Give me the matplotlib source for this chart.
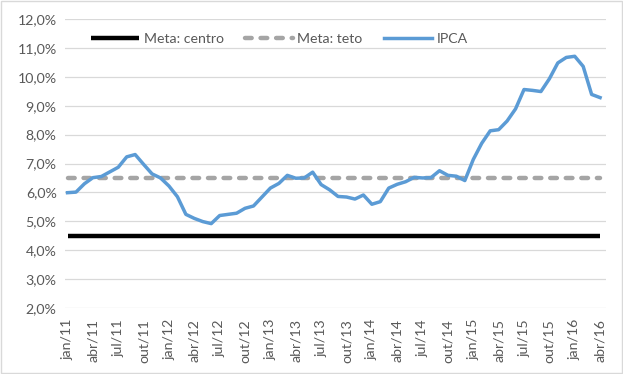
import matplotlib
matplotlib.use('Agg')
import matplotlib.pyplot as plt
from matplotlib.patches import Rectangle

# ── data ──────────────────────────────────────────────────────────────────────
MONTHS = ['jan', 'fev', 'mar', 'abr', 'mai', 'jun',
          'jul', 'ago', 'set', 'out', 'nov', 'dez']
YEARS = [11, 12, 13, 14, 15, 16]

ipca = [5.99, 6.01, 6.30, 6.51, 6.55, 6.71, 6.87, 7.23, 7.31, 6.97, 6.64, 6.50,
        6.22, 5.85, 5.24, 5.10, 4.99, 4.92, 5.20, 5.24, 5.28, 5.45, 5.53, 5.84,
        6.15, 6.31, 6.59, 6.49, 6.50, 6.70, 6.27, 6.09, 5.86, 5.84, 5.77, 5.91,
        5.59, 5.68, 6.15, 6.28, 6.37, 6.52, 6.50, 6.51, 6.75, 6.59, 6.56, 6.41,
        7.14, 7.70, 8.13, 8.17, 8.47, 8.89, 9.56, 9.53, 9.49, 9.93, 10.48, 10.67,
        10.71, 10.36, 9.39, 9.28]
meta_centro = [4.5] * len(ipca)
meta_teto = [6.5] * len(ipca)

labels = [f'{m}/{y}' for y in YEARS for m in MONTHS][:len(ipca)]

yticks = [2, 3, 4, 5, 6, 7, 8, 9, 10, 11, 12]

# ── plot ──────────────────────────────────────────────────────────────────────
plt.rcParams['font.family'] = ['Lato', 'DejaVu Sans']
TXT = '#595959'
FS = 10.2

fig = plt.figure(figsize=(6.23, 3.74), dpi=100)
fig.patches.append(Rectangle((0.001, 0.002), 0.997, 0.995, transform=fig.transFigure,
                             fill=False, edgecolor='#D9D9D9', linewidth=1.0))
ax = fig.add_axes([65 / 623, 1 - 308 / 374, 541 / 623, 289 / 374])

x = list(range(len(ipca)))
ax.plot(x, meta_centro, color='black', linewidth=3.2, label='Meta: centro',
        solid_capstyle='butt')
ax.plot(x, meta_teto, color='#A5A5A5', linewidth=3.2, label='Meta: teto',
        dashes=(1.5, 2.0), dash_capstyle='round')
ax.plot(x, ipca, color='#5B9BD5', linewidth=2.5, label='IPCA',
        solid_joinstyle='round')

ax.set_xlim(-0.3, len(ipca) - 0.3)
ax.set_ylim(2, 12)
ax.set_yticks(yticks)
ax.set_yticklabels([f'{v:.1f}%'.replace('.', ',') for v in yticks],
                   fontsize=FS, color=TXT)
ax.set_xticks(x[::3])
ax.set_xticklabels(labels[::3], rotation=90, fontsize=FS, color=TXT)
ax.tick_params(axis='x', length=0, pad=8)
ax.tick_params(axis='y', length=0, pad=6)
ax.grid(axis='y', color='#D9D9D9', linewidth=0.9)
ax.set_axisbelow(True)
for sp in ax.spines.values():
    sp.set_visible(False)

leg = ax.legend(loc='upper left', bbox_to_anchor=(0.025, 0.995), ncol=3,
                frameon=False, fontsize=FS, handlelength=3.4,
                handletextpad=0.3, columnspacing=1.5)
for t in leg.get_texts():
    t.set_color(TXT)

fig.savefig('out.png', dpi=100)
